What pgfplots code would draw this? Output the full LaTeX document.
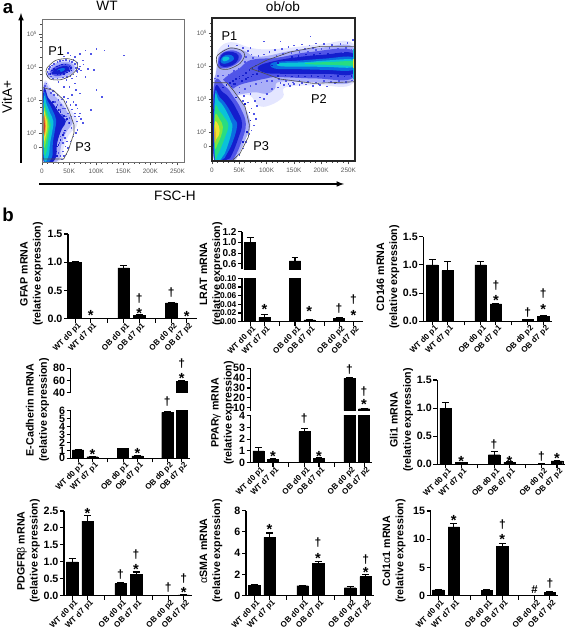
\documentclass[border=0pt]{standalone}
\usepackage{pgfplots}
\pgfplotsset{compat=1.18}
\usepackage{fontspec}
\setmainfont{Liberation Sans}
\definecolor{fb0}{RGB}{228,230,255}
\definecolor{fb1}{RGB}{170,175,248}
\definecolor{fb2}{RGB}{80,85,232}
\definecolor{fb3}{RGB}{20,30,205}
\definecolor{fc1}{RGB}{10,110,225}
\definecolor{fc2}{RGB}{10,195,215}
\definecolor{fg1}{RGB}{40,220,130}
\definecolor{fg2}{RGB}{130,230,60}
\definecolor{fy}{RGB}{240,225,50}
\definecolor{fo}{RGB}{240,150,40}
\definecolor{fr}{RGB}{215,60,40}
\newcommand\fsz[1]{\fontsize{#1}{#1}\selectfont}
\pgfplotsset{
  pxbox/.style n args={4}{scale only axis,at={(#1*0.75pt,{(631-#4)*0.75pt})},anchor=south west,
     width={(#2-#1)*0.75pt},height={(#4-#3)*0.75pt}},
  barax/.style={axis x line=bottom,axis y line=left,axis line style={-,line width=0.85pt},
     tick style={line width=0.8pt,black},major tick length=3pt,tick align=outside,
     clip mode=individual,
     xtick={0,1,2.07,3.13,4.13,5.17,6.2,7.2},
     xticklabels={WT d0 p1,WT d7 p1,,OB d0 p1,OB d7 p1,,OB d0 p2,OB d7 p2},
     x tick label style={rotate=45,anchor=north east,font=\bfseries\fsz{6},inner sep=0.5pt,xshift=2pt},
     y tick label style={font=\bfseries\fsz{8},inner sep=1pt}},
  topax/.style={axis x line=none,axis y line=left,axis line style={-,line width=0.85pt},
     tick style={line width=0.8pt,black},major tick length=3pt,tick align=outside,
     clip mode=individual,
     y tick label style={font=\bfseries\fsz{8},inner sep=1pt}},
  bars/.style={ybar,bar width=8.6pt,bar shift=0pt,fill=black,draw=black,line width=0.3pt,
     error bars/y dir=plus,error bars/y explicit,
     error bars/error bar style={line width=0.8pt,black},
     error bars/error mark options={black,rotate=90,mark size=2.6pt,line width=0.8pt}},
  flow/.style={xmin=0,xmax=262,ymin=1.12,ymax=5.45,axis on top,clip mode=individual,
     xtick={0,50,100,150,200,250},xticklabels={0,50K,100K,150K,200K,250K},
     minor x tick num=4,
     ytick={1.55,2,3,4,5},yticklabels={0,10\textsuperscript{2},10\textsuperscript{3},10\textsuperscript{4},10\textsuperscript{5}},
     minor ytick={2.3,2.6,2.78,2.9,3.3,3.6,3.78,3.9,4.3,4.6,4.78,4.9,5.3},
     tick align=outside,major tick length=2.5pt,minor tick length=1.3pt,
     tick style={line width=0.5pt,black!70},
     xtick pos=bottom,ytick pos=left,
     tick label style={font=\fsz{4.8},text=black!65,inner sep=1pt},
     x tick label style={yshift=-1.5pt},
     axis line style={line width=0.7pt}},
  lay/.style={fill=#1,draw=none,smooth cycle,tension=0.7,forget plot},
  dots/.style={only marks,mark=square*,mark size=0.24pt,color=#1,mark options={draw=none,fill=#1},forget plot},
  gate/.style={draw=black!70,line width=0.45pt,fill=none,mark=none,forget plot},
}
\newcommand\st[2]{\node[font=\bfseries\fsz{11},inner sep=0pt,yshift=-2.2pt] at (axis cs:#1,#2) {*};}
\newcommand\dg[2]{\node[font=\bfseries\fsz{9},inner sep=0pt] at (axis cs:#1,#2) {†};}
\newcommand\yl[3]{\node[rotate=90,align=center,font=\bfseries\fontsize{8}{9.8}\selectfont,inner sep=0pt] at ({#1*0.75pt},{(631-#2)*0.75pt}) {#3};}
\newcommand\tx[4]{\node[font=#1,inner sep=0pt] at ({#2*0.75pt},{(631-#3)*0.75pt}) {#4};}
\begin{document}
\begin{tikzpicture}
\path[use as bounding box] (0,0) rectangle (425.25pt,473.25pt);
% ---------- panel a texts and arrows
\tx{\bfseries\fsz{14}}{8}{9}{a}
\tx{\bfseries\fsz{14}}{8}{215}{b}
\tx{\fsz{10.2}}{107}{6}{WT}
\tx{\fsz{10.2}}{283}{7}{ob/ob}
\node[rotate=90,font=\fsz{10.2},inner sep=0pt] at ({7*0.75pt},{(631-97)*0.75pt}) {VitA+};
\tx{\fsz{10.2}}{175}{196}{FSC-H}
\draw[-latex,line width=0.9pt] ({21*0.75pt},{(631-163)*0.75pt}) -- ({21*0.75pt},{(631-13)*0.75pt});
\draw[-latex,line width=0.9pt] ({39*0.75pt},{(631-184)*0.75pt}) -- ({344*0.75pt},{(631-184)*0.75pt});
% ---------- WT flow
\begin{axis}[pxbox={42}{184}{19}{162},flow,axis line style={draw=black!55,line width=0.7pt}]
\addplot[lay=fb0] coordinates {(2.5,3.42)(20,3.3)(40,3.0)(52,2.72)(64,2.45)(64,2.2)(50,1.95)(40,1.55)(34,1.18)(2.5,1.14)};
\addplot[lay=fb1] coordinates {(2.5,3.38)(18,3.2)(36,2.9)(46,2.65)(56,2.4)(55,2.25)(44,2.0)(35,1.6)(30,1.18)(2.5,1.15)};
\addplot[lay=fb3] coordinates {(2.5,3.25)(12,3.05)(22,2.85)(32,2.6)(44,2.35)(36,2.1)(28,1.7)(24,1.2)(2.5,1.18)};
\addplot[lay=fc1] coordinates {(3,3.12)(11,2.95)(19,2.7)(26,2.4)(24,2.1)(20,1.7)(18,1.25)(3,1.22)};
\addplot[lay=fc2] coordinates {(3.5,3.02)(9,2.85)(15,2.6)(21,2.35)(19,2.05)(15,1.7)(12,1.3)(3.5,1.28)};
\addplot[lay=fg1] coordinates {(4,2.82)(8,2.7)(13,2.45)(16,2.25)(13.5,2.0)(11,1.7)(8,1.42)(4,1.42)};
\addplot[lay=fg2] coordinates {(4,2.72)(7,2.58)(11,2.38)(12.5,2.2)(10,1.95)(7,1.7)(4,1.62)};
\addplot[lay=fy] coordinates {(4,2.64)(6.5,2.5)(9.5,2.3)(8.5,2.05)(6,1.85)(4,1.8)};
\addplot[lay=fo] coordinates {(3.5,2.55)(6,2.4)(7,2.2)(6,2.02)(3.5,1.95)};
\addplot[lay=fr] coordinates {(3.2,2.5)(5,2.32)(5.5,2.18)(4.8,2.05)(3.2,2.0)};
\addplot[lay=fb0] coordinates {(8,3.75)(12,3.95)(25,4.15)(45,4.22)(62,4.12)(64,3.92)(52,3.72)(32,3.6)(14,3.62)};
\addplot[lay=fb1] coordinates {(10,3.8)(25,4.1)(45,4.16)(60,4.03)(55,3.8)(32,3.66)(14,3.68)};
\addplot[lay=fb2] coordinates {(15,3.85)(28,4.04)(46,4.1)(56,3.97)(42,3.78)(25,3.72)};
\addplot[lay=fb3] coordinates {(20,3.87)(30,3.98)(45,4.03)(50,3.93)(38,3.8)(27,3.78)};
\addplot[lay=fc1] coordinates {(28,3.9)(36,3.96)(43,3.94)(36,3.85)};
\addplot[dots=fb2] coordinates {
(60,4.3)(70,4.4)(80,4.5)(75,4.2)(90,4.4)(100,4.55)(115,4.5)(151,4.35)(70,4.02)(85,3.95)(95,3.92)(65,3.85)(80,3.7)(100,3.3)(110,3.1)(90,2.7)(70,2.6)(75,2.3)(65,2.1)(60,2.6)(62,2.85)
(40,4.32)(52,4.35)(47,4.42)(58,4.22)(65,4.12)(68,3.95)(72,3.9)(76,4.08)(63,3.72)(55,3.65)(45,3.6)(30,3.55)(60,3.5)(50,3.4)(40,3.4)(62,3.3)(55,3.15)(70,3.2)(48,3.05)(58,2.95)(65,2.75)(68,2.5)(72,2.42)(64,2.35)(60,2.5)(55,2.72)(52,2.85)(45,2.95)(40,3.1)(36,3.02)
(8,3.5)(5,3.42)(14,3.35)(20,3.28)(28,3.15)(62,2.0)(58,1.9)(52,1.75)(48,1.55)(45,1.35)(40,1.3)(38,1.45)(43,1.6)(54,2.15)(49,2.3)(44,2.4)(36,2.55)(33,2.7)(24,2.95)(28,2.85)
(12,3.95)(10,3.85)(10,3.75)(14,4.0)(18,4.05)(22,4.1)(28,4.15)(33,4.18)(38,4.2)(44,4.22)(50,4.18)(55,4.15)(60,4.1)(62,3.98)(64,3.88)(58,3.78)(52,3.74)(46,3.7)(38,3.68)(28,3.66)(20,3.66)(16,3.72)(12,3.8)
(35,2.85)(42,2.75)(48,2.6)(54,2.5)(50,2.45)(44,2.5)(38,2.75)(30,3.0)(22,3.15)(16,3.22)(34,1.9)(42,1.85)(46,1.75)(40,2.0)(30,1.4)(34,1.3)(36,1.2)(28,1.6)(32,1.7)(38,1.7)};
\addplot[dots=fb3] coordinates {
(18,3.9)(22,3.95)(27,4.02)(32,4.05)(37,4.08)(43,4.08)(50,4.02)(53,3.98)(50,3.88)(46,3.84)(40,3.8)(34,3.78)(28,3.78)(24,3.82)(20,3.82)(41,4.0)(47,3.92)(31,3.88)(15,3.8)(54,3.9)
(30,2.7)(34,2.65)(40,2.52)(46,2.42)(50,2.3)(42,2.08)(38,1.95)(34,1.8)(30,1.65)(27,1.3)(26,1.45)(27,1.6)(26,2.8)(20,2.95)};
\addplot[gate,smooth cycle] coordinates {(9,3.96)(24.5,4.19)(46,4.25)(63,4.16)(65.5,3.96)(52,3.73)(34,3.61)(15,3.63)(8,3.79)};
\addplot[gate] coordinates {(0,3.38)(21,3.29)(40,3.0)(50,2.65)(59,2.25)(59,2.0)(49,1.49)(40,1.21)(0,1.21)};
\node[font=\fsz{9.6},inner sep=0pt] at (axis cs:26,4.47) {P1};
\node[font=\fsz{9.6},inner sep=0pt] at (axis cs:76,1.58) {P3};
\end{axis}
% ---------- ob/ob flow
\begin{axis}[pxbox={212}{355}{18}{161},flow,axis line style={draw=black!85,line width=0.8pt}]
% diffuse clouds
\addplot[lay=fb0] coordinates {(8,4.0)(12,4.5)(35,4.72)(70,4.55)(100,4.5)(143,4.55)(198,4.65)(259,4.66)(259,3.48)(190,3.42)(135,3.35)(130,3.05)(105,2.8)(85,2.8)(70,3.1)(50,3.1)(20,3.1)(6,3.4)};
\addplot[lay=fb1] coordinates {(8,3.5)(10,4.05)(15,4.4)(35,4.55)(60,4.45)(75,4.3)(100,4.3)(143,4.45)(198,4.55)(259,4.56)(259,3.55)(190,3.5)(125,3.52)(115,3.3)(100,3.15)(80,3.2)(55,3.15)(30,3.1)};
\addplot[lay=fb2] coordinates {(12,3.42)(30,3.72)(50,3.92)(72,4.18)(120,4.25)(180,4.42)(259,4.46)(259,3.64)(190,3.62)(120,3.66)(100,3.62)(80,3.55)(50,3.42)(30,3.22)(15,3.2)};
\addplot[lay=fb3] coordinates {(85,3.98)(115,4.15)(160,4.27)(207,4.34)(259,4.37)(259,3.77)(207,3.76)(130,3.76)(95,3.8)};
\addplot[lay=fc1] coordinates {(112,4.1)(160,4.16)(207,4.22)(259,4.26)(259,3.88)(207,3.88)(160,3.9)(115,3.92)};
\addplot[lay=fc2] coordinates {(125,4.08)(170,4.11)(207,4.16)(259,4.19)(259,3.96)(207,3.97)(170,3.98)(125,3.99)};
\addplot[lay=fg1] coordinates {(176,4.09)(220,4.12)(259,4.14)(259,4.01)(220,4.03)(176,4.05)};
\addplot[line width=0.9pt,color=fc2,forget plot] coordinates {(260.3,3.6)(260.3,4.5)};
\addplot[line width=0.9pt,color=fy,forget plot] coordinates {(260.3,3.95)(260.3,4.2)};
% main population
\addplot[lay=fb1] coordinates {(3.5,3.55)(25,3.5)(45,3.15)(60,2.75)(70,2.25)(62,1.8)(48,1.3)(38,1.14)(3.5,1.14)};
\addplot[lay=fb2] coordinates {(4,3.42)(24,3.38)(40,3.05)(53,2.7)(62,2.25)(55,1.75)(42,1.25)(33,1.15)(4,1.15)};
\addplot[lay=fb3] coordinates {(4.5,3.25)(20,3.2)(33,3.0)(46,2.65)(55,2.25)(48,1.8)(36,1.3)(28,1.17)(4.5,1.17)};
\addplot[lay=fc1] coordinates {(5,3.12)(14,3.05)(27,2.8)(40,2.42)(46,2.2)(38,1.7)(26,1.3)(20,1.18)(5,1.18)};
\addplot[lay=fc2] coordinates {(5.5,3.05)(12,2.95)(22,2.75)(34,2.35)(37,2.1)(28,1.55)(18,1.22)(5.5,1.2)};
\addplot[lay=fg1] coordinates {(5.5,2.72)(14,2.62)(22,2.45)(30,2.2)(24,1.85)(17,1.55)(10,1.3)(5.5,1.28)};
\addplot[lay=fg2] coordinates {(5.5,2.5)(14,2.38)(20,2.15)(16,1.85)(10,1.62)(5.5,1.55)};
\addplot[lay=fy] coordinates {(5.5,2.3)(12,2.2)(14,2.05)(12,1.88)(7.5,1.78)(5.5,1.75)};
\addplot[lay=fo] coordinates {(4.8,2.13)(6.5,2.0)(6.5,1.75)(4.8,1.68)};
% P1 population
\addplot[lay=fb2] coordinates {(11,4.1)(16,4.35)(35,4.47)(52,4.38)(54,4.22)(42,4.03)(26,3.93)(13,3.95)};
\addplot[lay=fb3] coordinates {(14,4.2)(22,4.4)(38,4.42)(49,4.3)(44,4.1)(30,3.98)(16,4.0)};
\addplot[lay=fc1] coordinates {(16,4.2)(24,4.32)(36,4.32)(40,4.2)(28,4.08)(18,4.08)};
\addplot[lay=fc2] coordinates {(20,4.25)(28,4.28)(32,4.22)(26,4.15)(20,4.15)};
\addplot[dots=fb2] coordinates {
(56,4.55)(65,4.45)(72,4.35)(75,4.25)(62,4.28)(60,4.12)(70,4.15)(78,4.1)(65,4.0)(58,3.95)(48,3.92)(40,3.85)(50,3.82)(60,3.8)(70,3.75)(42,3.72)(30,3.75)(20,3.72)(10,3.7)(5,3.62)
(100,3.15)(110,3.3)(120,3.35)(132,3.42)(142,3.4)(150,3.45)(160,3.42)(172,3.44)(185,3.4)(198,3.42)(210,3.38)(88,3.05)(78,2.95)(95,3.0)(82,2.8)(72,2.72)(76,2.55)(80,2.4)(76,2.2)(72,2.05)(68,1.95)(62,1.7)(56,1.5)(50,1.3)
(85,4.3)(95,4.35)(105,4.42)(115,4.48)(128,4.52)(140,4.58)(150,4.62)(165,4.65)(178,4.62)(190,4.68)(205,4.66)(220,4.64)(235,4.66)(248,4.7)(258,4.8)(70,4.55)(45,4.62)(30,4.6)(95,4.75)(125,4.75)(180,4.9)
(110,3.55)(122,3.6)(135,3.55)(148,3.5)(160,3.55)(175,3.52)(190,3.5)(205,3.55)(218,3.52)(232,3.55)(245,3.52)(256,3.56)(125,3.48)(140,3.46)(165,3.48)(195,3.46)(225,3.48)
(155,4.5)(170,4.52)(185,4.55)(200,4.52)(215,4.55)(230,4.52)(245,4.55)(255,4.5)(240,4.42)(222,4.45)(205,4.42)(190,4.48)(175,4.42)(160,4.42)(145,4.4)(130,4.36)(118,4.3)
(46,3.5)(56,3.55)(66,3.6)(76,3.62)(86,3.7)(50,3.35)(60,3.3)(70,3.4)(80,3.45)(90,3.5)(70,3.15)(58,3.1)(66,2.9)(56,2.95)(100,3.55)};
\addplot[dots=fb3] coordinates {
(62,3.6)(72,3.68)(82,3.76)(92,3.82)(100,3.9)(110,4.02)(120,4.1)(132,4.2)(146,4.28)(158,4.3)(172,4.35)(186,4.33)(198,4.38)(212,4.37)(226,4.36)(240,4.38)(254,4.38)
(120,3.7)(134,3.72)(146,3.68)(158,3.7)(170,3.68)(182,3.7)(194,3.68)(206,3.7)(218,3.68)(230,3.7)(242,3.68)(255,3.7)(50,3.62)(40,3.45)(50,3.2)(44,3.05)(60,2.85)(68,2.6)(70,2.35)(64,2.0)(56,1.7)
(20,3.35)(26,3.42)(32,3.48)(38,3.55)(44,3.6)(50,3.68)(56,3.72)(62,3.8)(68,3.88)(74,3.95)(80,4.02)(35,3.38)(42,3.45)(55,3.55)(65,3.65)(75,3.75)(85,3.85)};
\addplot[gate,smooth cycle] coordinates {(10,4.32)(33,4.54)(54,4.47)(60,4.32)(51,4.07)(30,3.9)(15,3.92)(9,4.07)};
\addplot[gate] coordinates {(0,3.49)(27,3.49)(39,3.26)(60.6,2.76)(68.5,2.21)(66.7,1.85)(51.4,1.35)(36,1.12)(0,1.12)};
\addplot[gate] coordinates {(70,3.92)(100,4.17)(143,4.42)(198,4.59)(262,4.59)};
\addplot[gate] coordinates {(70,3.92)(88,3.82)(125,3.6)(186,3.47)(262,3.52)};
\node[font=\fsz{9.6},inner sep=0pt] at (axis cs:32,4.9) {P1};
\node[font=\fsz{9.6},inner sep=0pt] at (axis cs:90,1.58) {P3};
\node[font=\fsz{9.6},inner sep=0pt] at (axis cs:196,3.0) {P2};
\end{axis}
% ---------- GFAP
\begin{axis}[pxbox={68}{196.7}{234}{318.7},barax,xmin=-0.47,xmax=7.85,ymin=0,ymax=1.5,ytick={0,0.5,1,1.5},yticklabels={0.0,0.5,1.0,1.5}]
\addplot[bars] coordinates {(0,1.0)+-(0,0.02)(1,0.005)+-(0,0.002)(3.13,0.9)+-(0,0.05)(4.13,0.06)+-(0,0.015)(6.2,0.28)+-(0,0.015)(7.2,0.005)+-(0,0.002)};
\st{1}{0.11}\st{4.13}{0.15}\dg{4.13}{0.36}\dg{6.2}{0.47}\st{7.2}{0.10}
\end{axis}
\yl{31.5}{274}{GFAP mRNA\\(relative expression)}
% ---------- LRAT
\begin{axis}[pxbox={242}{363}{231.7}{269.3},topax,xmin=-0.56,xmax=7.87,ymin=0.5,ymax=1.2,ytick={0.6,0.8,1,1.2},yticklabels={0.6,0.8,1.0,1.2},y tick label style={font=\bfseries\fsz{7.5}}]
\addplot[bars,bar width=8.3pt] coordinates {(0,1.0)+-(0,0.09)(3.13,0.657)+-(0,0.063)};
\end{axis}
\begin{axis}[pxbox={242}{363}{278.3}{321.7},barax,xmin=-0.56,xmax=7.87,ymin=0,ymax=0.1,ytick={0,0.02,0.04,0.06,0.08,0.1},yticklabels={0.00,0.02,0.04,0.06,0.08,0.10},y tick label style={font=\bfseries\fsz{6.3}}]
\addplot[bars,bar width=8.3pt] coordinates {(0,1.0)(1,0.01)+-(0,0.007)(3.13,0.65)(4.13,0.004)+-(0,0.001)(6.2,0.008)+-(0,0.001)(7.2,0.001)+-(0,0.0005)};
\st{1}{0.036}\st{4.13}{0.031}\dg{6.2}{0.031}\st{7.2}{0.022}\dg{7.2}{0.051}
\end{axis}
\yl{211}{274}{LRAT mRNA\\(relative expression)}
% ---------- CD146
\begin{axis}[pxbox={423.3}{551.7}{236.7}{321.3},barax,xmin=-0.58,xmax=7.75,ymin=0,ymax=1.5,ytick={0,0.5,1,1.5},yticklabels={0.0,0.5,1.0,1.5}]
\addplot[bars] coordinates {(0,1.0)+-(0,0.1)(1,0.9)+-(0,0.16)(3.13,1.0)+-(0,0.06)(4.13,0.31)+-(0,0.01)(6.2,0.03)+-(0,0.005)(7.2,0.09)+-(0,0.01)};
\st{4.13}{0.42}\dg{4.13}{0.64}\dg{6.2}{0.16}\st{7.2}{0.27}\dg{7.2}{0.49}
\end{axis}
\yl{388}{277}{CD146 mRNA\\(relative expression)}
% ---------- E-Cadherin
\begin{axis}[pxbox={70.7}{190}{368.3}{392.7},topax,xmin=-0.51,xmax=7.78,ymin=40,ymax=80,ytick={40,60,80},yticklabels={40,60,80}]
\addplot[bars,bar width=8.3pt] coordinates {(7.2,59)+-(0,1)};
\st{7.2}{68}\dg{7.2}{87.5}
\end{axis}
\begin{axis}[pxbox={70.7}{190}{410.7}{458.3},barax,xmin=-0.51,xmax=7.78,ymin=0,ymax=6,ytick={0,1,2,3,4,5,6},yticklabels={0,1,2,3,4,5,6}]
\addplot[bars,bar width=8.3pt] coordinates {(0,1.05)+-(0,0.05)(1,0.2)+-(0,0.03)(3.13,1.25)+-(0,0.03)(4.13,0.3)+-(0,0.03)(6.2,5.8)+-(0,0.1)(7.2,59)};
\st{1}{0.83}\st{4.13}{0.96}\dg{6.2}{7.1}
\end{axis}
\yl{37.5}{410}{E-Cadherin mRNA\\(relative expression)}
% ---------- PPARg
\begin{axis}[pxbox={250.7}{371.7}{368.3}{410.7},topax,xmin=-0.52,xmax=7.72,ymin=7,ymax=50,ytick={10,20,30,40,50},yticklabels={10,20,30,40,50}]
\addplot[bars,bar width=8.3pt] coordinates {(6.2,39.8)+-(0,1.2)(7.2,9)+-(0,0.2)};
\dg{6.2}{49}\st{7.2}{16}\dg{7.2}{26.3}
\end{axis}
\begin{axis}[pxbox={250.7}{371.7}{415.7}{462.7},barax,xmin=-0.52,xmax=7.72,ymin=0,ymax=4,ytick={0,1,2,3,4},yticklabels={0,1,2,3,4}]
\addplot[bars,bar width=8.3pt] coordinates {(0,1.0)+-(0,0.3)(1,0.3)+-(0,0.07)(3.13,2.65)+-(0,0.3)(4.13,0.35)+-(0,0.05)(6.2,39.8)(7.2,9)};
\st{1}{0.74}\dg{3.13}{3.72}\st{4.13}{0.77}
\end{axis}
\yl{222.5}{413}{PPAR\textmd{γ} mRNA\\(relative expression)}
% ---------- Gli1
\begin{axis}[pxbox={437.3}{565}{380}{464.3},barax,xmin=-0.54,xmax=7.72,ymin=0,ymax=1.5,ytick={0,0.5,1,1.5},yticklabels={0.0,0.5,1.0,1.5}]
\addplot[bars] coordinates {(0,1.0)+-(0,0.1)(1,0.03)+-(0,0.01)(3.13,0.17)+-(0,0.05)(4.13,0.04)+-(0,0.01)(6.2,0.005)+-(0,0.002)(7.2,0.06)+-(0,0.01)};
\st{1}{0.107}\dg{3.13}{0.356}\st{4.13}{0.107}\dg{6.2}{0.13}\st{7.2}{0.148}
\end{axis}
\yl{401.5}{420}{Gli1 mRNA\\(relative expression)}
% ---------- PDGFRb
\begin{axis}[pxbox={64}{191.7}{511}{595.7},barax,xmin=-0.52,xmax=7.72,ymin=0,ymax=2.5,ytick={0,0.5,1,1.5,2,2.5},yticklabels={0.0,0.5,1.0,1.5,2.0,2.5}]
\addplot[bars] coordinates {(0,1.0)+-(0,0.1)(1,2.2)+-(0,0.18)(3.13,0.36)+-(0,0.03)(4.13,0.63)+-(0,0.07)(6.2,0.01)+-(0,0.005)(7.2,0.025)+-(0,0.01)};
\st{1}{2.52}\dg{3.13}{0.63}\st{4.13}{0.85}\dg{4.13}{1.22}\dg{6.2}{0.24}\st{7.2}{0.19}\dg{7.2}{0.51}
\end{axis}
\yl{28.3}{551}{PDGFR\textmd{β} mRNA\\(relative expression)}
% ---------- aSMA
\begin{axis}[pxbox={246}{374}{510.7}{595.7},barax,xmin=-0.52,xmax=7.74,ymin=0,ymax=8,ytick={0,2,4,6,8},yticklabels={0,2,4,6,8}]
\addplot[bars] coordinates {(0,1.0)+-(0,0.08)(1,5.5)+-(0,0.4)(3.13,0.94)+-(0,0.03)(4.13,3.04)+-(0,0.2)(6.2,0.75)+-(0,0.15)(7.2,1.79)+-(0,0.2)};
\st{1}{6.5}\st{4.13}{3.8}\dg{4.13}{5.0}\st{7.2}{2.48}\dg{7.2}{3.36}
\end{axis}
\yl{211}{551}{\textmd{α}SMA mRNA\\(relative expression)}
% ---------- Col1a1
\begin{axis}[pxbox={430.7}{558}{511}{595.7},barax,xmin=-0.49,xmax=7.72,ymin=0,ymax=15,ytick={0,5,10,15},yticklabels={0,5,10,15}]
\addplot[bars] coordinates {(0,1.05)+-(0,0.05)(1,12.2)+-(0,0.6)(3.13,1.0)+-(0,0.03)(4.13,8.7)+-(0,0.6)(7.2,0.6)+-(0,0.1)};
\st{1}{13.9}\st{4.13}{10.45}\dg{4.13}{12.6}\dg{7.2}{2.1}
\node[font=\bfseries\fsz{8.5},inner sep=0pt] at (axis cs:6.2,1.0) {\#};
\end{axis}
\yl{394}{551}{Col1\textmd{α}1 mRNA\\(relative expression)}
\end{tikzpicture}
\end{document}
